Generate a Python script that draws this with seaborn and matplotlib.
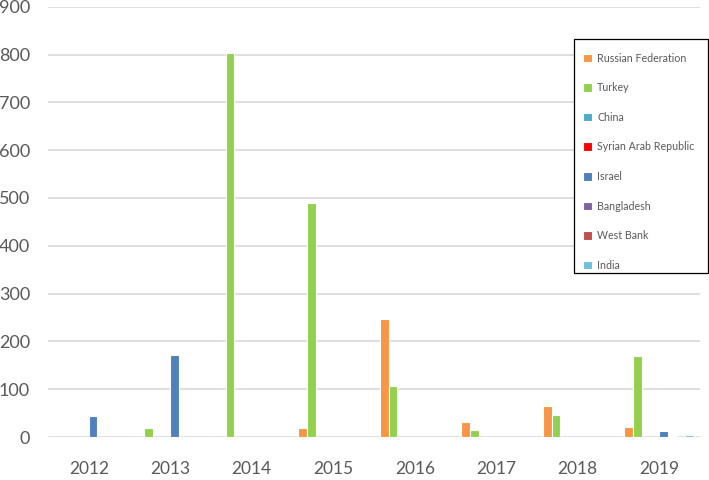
import matplotlib
matplotlib.use("Agg")
import matplotlib.pyplot as plt
from matplotlib.patches import Rectangle
import seaborn as sns
import pandas as pd

years = ["2012", "2013", "2014", "2015", "2016", "2017", "2018", "2019"]
countries = ["Russian Federation", "Turkey", "China", "Syrian Arab Republic",
             "Israel", "Bangladesh", "West Bank", "India"]
russia = [0, 0, 0, 18, 246, 31, 65, 21]
turkey = [0, 19, 803, 489, 107, 15, 47, 169]
china = [0, 0, 0, 0, 0, 0, 0, 0]
syria = [0, 0, 0, 0, 0, 0, 0, 0]
israel = [44, 171, 0, 0, 0, 0, 0, 13]
bangladesh = [0, 0, 0, 0, 0, 0, 0, 1.5]
west_bank = [0, 0, 0, 0, 0, 0, 0, 0]
india = [0, 0, 0, 0, 0, 0, 0, 3.5]
colors = ["#F79646", "#92D050", "#4BACC6", "#FF0000",
          "#4F81BD", "#8064A2", "#C0504D", "#6FC0DA"]

series = [russia, turkey, china, syria, israel, bangladesh, west_bank, india]
rows = []
for c, vals in zip(countries, series):
    for y, v in zip(years, vals):
        rows.append({"year": y, "country": c, "value": v})
df = pd.DataFrame(rows)

sns.set_theme(style="white")
plt.rcParams["font.family"] = ["Lato", "DejaVu Sans"]

W, H = 709, 480
fig = plt.figure(figsize=(7.09, 4.8), dpi=100)
ax = fig.add_axes([48 / W, 43 / H, 652 / W, 430.3 / H])

sns.barplot(data=df, x="year", y="value", hue="country", order=years,
            hue_order=countries, palette=colors, width=0.855, ax=ax,
            edgecolor="white", linewidth=0.8, saturation=1, errorbar=None)

ax.set_ylim(0, 900)
ax.set_yticks(range(0, 901, 100))
ax.set_xlim(-0.5, 7.5)
ax.yaxis.grid(True, color="#D9D9D9", linewidth=1.2)
ax.set_axisbelow(True)
for s in ax.spines.values():
    s.set_visible(False)
ax.set_xlabel("")
ax.set_ylabel("")
ax.tick_params(axis="x", length=0, pad=17, labelsize=12.5, labelcolor="#595959")
ax.tick_params(axis="y", length=0, pad=13, labelsize=13, labelcolor="#595959")

handles, labels = ax.get_legend_handles_labels()
if ax.legend_:
    ax.legend_.remove()

# legend frame (asymmetric padding like the original)
fig.patches.append(Rectangle((573.7 / W, 1 - 272.7 / H), 134 / W, 233.4 / H,
                             transform=fig.transFigure, facecolor="white",
                             edgecolor="black", linewidth=0.9, zorder=3))
leg = fig.legend(handles, labels, loc="upper left",
                 bbox_to_anchor=(583.3 / W, 1 - 52.8 / H),
                 bbox_transform=fig.transFigure,
                 fontsize=7.7, frameon=False,
                 labelspacing=1.735, handlelength=0.85, handleheight=0.85,
                 handletextpad=0.45, borderpad=0, borderaxespad=0)
leg.set_zorder(4)
for t in leg.get_texts():
    t.set_color("#595959")

fig.savefig("out.png", dpi=100)
